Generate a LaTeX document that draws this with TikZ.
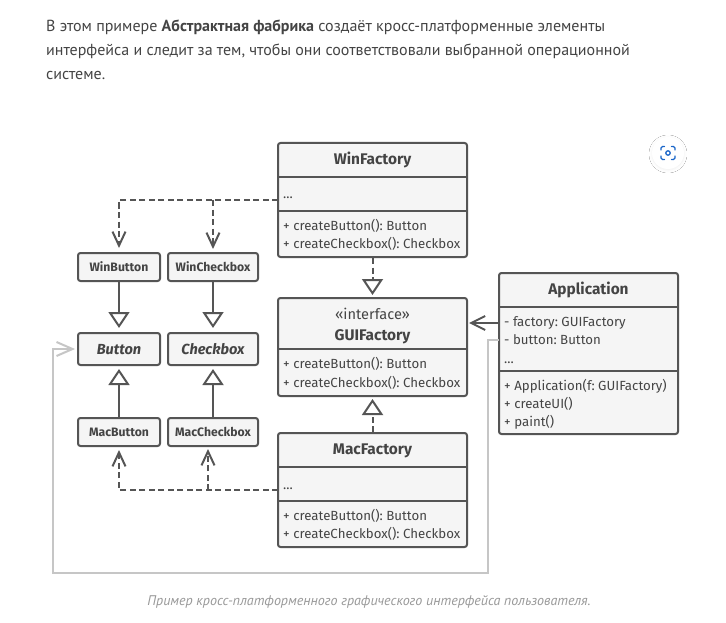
\documentclass[tikz,border=0pt]{standalone}
\usepackage{fontspec}
\setmainfont{Fira Sans}
\newfontfamily\ptfont{PT Sans}
\usetikzlibrary{arrows.meta,calc,shadows.blur}
\frenchspacing
\definecolor{ink}{HTML}{555555}
\definecolor{txt}{HTML}{444444}
\definecolor{pale}{HTML}{F5F5F5}
\definecolor{wire}{HTML}{C6C6C6}
\definecolor{capt}{HTML}{999999}
\definecolor{blueicon}{HTML}{1A66C9}
\tikzset{
  box/.style={draw=ink,fill=pale,line width=2pt,rounded corners=2.5pt,inner sep=0pt,minimum width=#1},
  part/.style={draw=ink,line width=2pt},
  title/.style={font=\fontsize{15.4}{18}\selectfont\bfseries,text=txt,inner sep=0pt,anchor=base},
  small/.style={font=\fontsize{12.2}{15}\selectfont\bfseries,text=txt,inner sep=0pt,anchor=base},
  member/.style={font=\fontsize{13.25}{16}\selectfont,text=txt,inner sep=0pt,anchor=base west},
  para/.style={font=\ptfont\fontsize{16}{18}\selectfont,text=txt,inner sep=0pt,anchor=base west},
  inherit/.style={ink,line width=2pt,-{Triangle[open,length=16pt,width=21pt,fill=white,line width=2pt]}},
  realize/.style={inherit,dash pattern=on 6pt off 3.5pt},
  depend/.style={ink,line width=2pt,dash pattern=on 6pt off 3.5pt,-{Straight Barb[length=14pt,width=13pt,line width=2pt]}},
  assoc/.style={ink,line width=2pt,-{Straight Barb[length=14pt,width=14pt,line width=2pt]}},
  ref/.style={wire,line width=2pt,-{Straight Barb[length=16pt,width=14pt,line width=2pt]}}
}
\begin{document}
\begin{tikzpicture}[x=1pt,y=-1pt]
\useasboundingbox (0,0) rectangle (726,623);
\fill[white] (0,0) rectangle (726,623);

% intro
\node[para] (p1) at (46,31.5) {В этом примере \textbf{Абстрактная фабрика} создаёт кросс-платформенные элементы};
\node[para] (p2) at (46,55.5) {интерфейса и следит за тем, чтобы они соответствовали выбранной операционной};
\node[para] (p3) at (46,79.5) {системе.};

% icon
\node[circle,fill=white,minimum size=32pt,inner sep=0pt,blur shadow={shadow blur steps=6,shadow xshift=0pt,shadow yshift=-1pt,shadow blur radius=3pt,shadow opacity=6}] (icon) at (668,153) {};
\draw[blueicon,line width=1.4pt,line cap=round,rounded corners=1.5pt]
  (661,150) -- (661,146.5) -- (664.5,146.5)
  (671.5,146.5) -- (675,146.5) -- (675,150)
  (675,156) -- (675,159.5) -- (671.5,159.5)
  (664.5,159.5) -- (661,159.5) -- (661,156);
\draw[blueicon,line width=1.3pt] (668,153) circle (2.2pt);

% boxes
\node[box=189pt,minimum height=114pt] (wf) at (372.5,200) {};
\node[box=189pt,minimum height=98pt] (gf) at (372.5,347) {};
\node[box=189pt,minimum height=114pt] (mf) at (372.5,490) {};
\node[box=179pt,minimum height=161pt] (app) at (588.5,353.5) {};
\node[box=82pt,minimum height=28pt] (wb) at (119,267) {};
\node[box=90pt,minimum height=28pt] (wc) at (213,267) {};
\node[box=82pt,minimum height=32pt] (bt) at (119,349) {};
\node[box=90pt,minimum height=32pt] (cb) at (213,349) {};
\node[box=82pt,minimum height=28pt] (mb) at (119,432) {};
\node[box=90pt,minimum height=28pt] (mc) at (213,432) {};

% dividers
\draw[part] (wf.west |- 0,177) -- (wf.east |- 0,177);
\draw[part] (wf.west |- 0,211) -- (wf.east |- 0,211);
\draw[part] (gf.west |- 0,349) -- (gf.east |- 0,349);
\draw[part] (mf.west |- 0,467) -- (mf.east |- 0,467);
\draw[part] (mf.west |- 0,501) -- (mf.east |- 0,501);
\draw[part] (app.west |- 0,307) -- (app.east |- 0,307);
\draw[part] (app.west |- 0,371) -- (app.east |- 0,371);

% labels
\node[title] (t1) at (372.5,165) {WinFactory};
\node[member] (t2) at (283,198) {...};
\node[member] (t3) at (283,230) {+ createButton(): Button};
\node[member] (t4) at (283,248) {+ createCheckbox(): Checkbox};

\node[font=\fontsize{14.6}{18}\selectfont,text=txt,inner sep=0pt,anchor=base] (t5) at (372.5,319) {«interface»};
\node[title] (t6) at (372.5,340) {GUIFactory};
\node[member] (t7) at (283,368) {+ createButton(): Button};
\node[member] (t8) at (283,387) {+ createCheckbox(): Checkbox};

\node[title] (t9) at (372.5,454) {MacFactory};
\node[member] (t10) at (283,489) {...};
\node[member] (t11) at (283,520) {+ createButton(): Button};
\node[member] (t12) at (283,538) {+ createCheckbox(): Checkbox};

\node[title] (t13) at (588.5,294) {Application};
\node[member] (t14) at (504,326) {- factory: GUIFactory};
\node[member] (t15) at (504,344) {- button: Button};
\node[member] (t16) at (504,363) {...};
\node[member] (t17) at (504,390) {+ Application(f: GUIFactory)};
\node[member] (t18) at (504,408) {+ createUI()};
\node[member] (t19) at (504,426) {+ paint()};

\node[small] (t20) at (119,271.5) {WinButton};
\node[small] (t21) at (213,271.5) {WinCheckbox};
\node[small,font=\fontsize{14.6}{18}\selectfont\bfseries\itshape] (t22) at (119,354) {Button};
\node[small,font=\fontsize{14.6}{18}\selectfont\bfseries\itshape] (t23) at (213,354) {Checkbox};
\node[small] (t24) at (119,436.5) {MacButton};
\node[small] (t25) at (213,436.5) {MacCheckbox};

\node[font=\ptfont\fontsize{14}{16}\selectfont\itshape,text=capt,inner sep=0pt,anchor=base] (cap) at (369,605.5) {Пример кросс-платформенного графического интерфейса пользователя.};

% free points
\coordinate (wfout) at (278,200);
\coordinate (mfout) at (278,490);
\coordinate (appf) at (499,323);
\coordinate (appb) at (499,340);
\coordinate (gfin) at (467,323);
\coordinate (btin) at (78,349);
\coordinate (wcin) at (213,253);
\coordinate (mcin) at (208,446);

% connectors
\draw[depend,shorten >=4pt] (wfout) -- (wb.north |- wfout) -- (wb.north);
\draw[depend,shorten >=4pt] (wcin |- wfout) -- (wcin);
\draw[depend,shorten >=3pt] (mfout) -- (mb.south |- mfout) -- (mb.south);
\draw[depend,shorten >=3pt] (mcin |- mfout) -- (mcin);
\draw[inherit,shorten >=4pt] (wb.south) -- (bt.north);
\draw[inherit,shorten >=4pt] (wc.south) -- (cb.north);
\draw[inherit,shorten >=3pt] (mb.north) -- (bt.south);
\draw[inherit,shorten >=3pt] (mc.north) -- (cb.south);
\draw[realize,shorten >=2pt] (wf.south) -- (gf.north);
\draw[realize,shorten >=2pt] (mf.north) -- (gf.south);
\draw[assoc,shorten >=2pt] (appf) -- (gfin);
\draw[ref,shorten >=3pt] (appb) -- (488,340) -- (488,573) -- (53,573) -- (53,349) -- (btin);
\end{tikzpicture}
\end{document}
